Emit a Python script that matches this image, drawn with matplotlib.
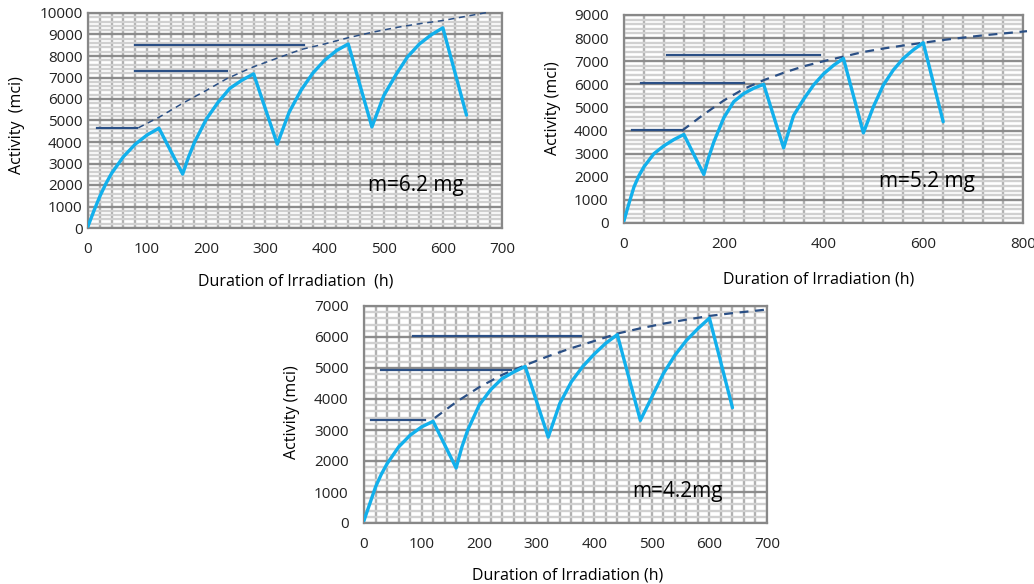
import matplotlib.pyplot as plt
from matplotlib.ticker import MultipleLocator

plt.rcParams['font.family'] = ['Open Sans', 'DejaVu Sans']

# ============================================================
# DATA
# ============================================================

t_hours = [0, 10, 20, 30, 40, 60, 80, 100, 120, 160, 170, 180, 200, 220,
           240, 260, 280, 320, 340, 360, 380, 400, 420, 440, 480, 500, 520,
           540, 560, 580, 600, 640]

act_62 = [80, 800, 1470, 2050, 2550, 3320, 3900, 4330, 4640, 2510, 3300,
          3980, 5060, 5850, 6500, 6870, 7170, 3900, 5380, 6400, 7200, 7800,
          8250, 8560, 4700, 6150, 7100, 7950, 8550, 8980, 9310, 5250]

act_52 = [100, 850, 1560, 2050, 2430, 3000, 3340, 3610, 3830, 2100, 2850,
          3500, 4550, 5250, 5600, 5830, 6000, 3250, 4650, 5350, 5970, 6450,
          6820, 7120, 3900, 5030, 5970, 6620, 7120, 7490, 7800, 4380]

act_42 = [80, 620, 1160, 1570, 1910, 2450, 2830, 3100, 3280, 1775, 2450,
          2990, 3800, 4300, 4660, 4870, 5050, 2770, 3850, 4550, 5050, 5450,
          5800, 6075, 3310, 4065, 4820, 5410, 5890, 6270, 6610, 3720]

# envelope (dashed)
env_t_62 = [85, 120, 160, 200, 235, 280, 320, 360, 400, 440, 480, 520, 560,
            600, 640, 680]
env_62 = [4660, 5150, 5800, 6400, 6950, 7500, 7900, 8300, 8560, 8850, 9100,
          9320, 9500, 9650, 9850, 10050]

env_t_52 = [116, 160, 200, 240, 280, 320, 360, 400, 440, 480, 520, 560, 600,
            640, 680, 720, 760, 808]
env_52 = [3990, 4700, 5300, 5800, 6180, 6500, 6780, 7000, 7200, 7400, 7550,
          7680, 7800, 7920, 8020, 8120, 8200, 8300]

env_t_42 = [123, 160, 200, 240, 280, 320, 360, 400, 440, 480, 520, 560, 600,
            640, 697]
env_42 = [3390, 3900, 4380, 4780, 5090, 5380, 5640, 5870, 6110, 6280, 6430,
          6560, 6680, 6770, 6880]

# horizontal reference lines: start, end, level
ref_start_62 = [16, 80, 80]
ref_end_62 = [83, 235, 365]
ref_level_62 = [4670, 7290, 8490]

ref_start_52 = [17, 35, 86]
ref_end_52 = [116, 241, 393]
ref_level_52 = [4020, 6040, 7250]

ref_start_42 = [13, 30, 85]
ref_end_42 = [106, 255, 377]
ref_level_42 = [3330, 4950, 6040]

# ============================================================
# FIGURE
# ============================================================

W, H = 1034, 584
fig = plt.figure(figsize=(W / 100, H / 100), dpi=100)


def px_axes(left, right, top, bottom):
    return fig.add_axes([left / W, 1 - bottom / H,
                         (right - left) / W, (bottom - top) / H])


def panel(ax, act, env_t, env, r_start, r_end, r_level,
          xmax, ymax, xmaj, xmin, ypad, dash_lw):
    ax.set_xlim(0, xmax)
    ax.set_ylim(0, ymax)

    ax.xaxis.set_major_locator(MultipleLocator(xmaj))
    ax.xaxis.set_minor_locator(MultipleLocator(xmin))
    ax.yaxis.set_major_locator(MultipleLocator(1000))
    ax.yaxis.set_minor_locator(MultipleLocator(200))

    ax.grid(which='minor', axis='y', color='#d0d0d0', lw=1.7, zorder=0)
    ax.grid(which='major', axis='y', color='#8c8c8c', lw=1.7, zorder=0)
    ax.grid(which='both', axis='x', color='#b0b0b0', lw=1.7, zorder=0)
    ax.set_axisbelow(True)

    for s in ax.spines.values():
        s.set_color('#888888')
        s.set_linewidth(1.6)

    ax.tick_params(which='both', length=0, labelsize=11, colors='#222222')
    ax.tick_params(axis='x', pad=10)
    ax.tick_params(axis='y', pad=ypad)

    for a, b, lvl in zip(r_start, r_end, r_level):
        ax.plot([a, b], [lvl, lvl], color='#2a4f85', lw=1.6, zorder=3)

    ax.plot(env_t, env, color='#2a4f85', lw=dash_lw, dashes=(4, 3),
            zorder=3, clip_on=False)

    ax.plot(t_hours, act, color='#12b0ec', lw=2.4, zorder=4,
            solid_joinstyle='round', solid_capstyle='round')


# 1. m=6.2 mg
ax1 = px_axes(88, 502, 13, 228)
panel(ax1, act_62, env_t_62, env_62, ref_start_62, ref_end_62, ref_level_62,
      700, 10000, 100, 20, 4, 1.1)
fig.text(416 / W, 1 - 185 / H, 'm=6.2 mg', fontsize=15, ha='center',
         va='center')
fig.text(296 / W, 1 - 281 / H, 'Duration of Irradiation  (h)', fontsize=11.5,
         ha='center', va='center')
fig.text(17 / W, 1 - 125 / H, 'Activity  (mci)', fontsize=11.5, ha='center',
         va='center', rotation=90)

# 2. m=5.2 mg
ax2 = px_axes(624, 1023, 15, 223)
panel(ax2, act_52, env_t_52, env_52, ref_start_52, ref_end_52, ref_level_52,
      800, 9000, 200, 40, 11, 1.6)
fig.text(927 / W, 1 - 182 / H, 'm=5.2 mg', fontsize=15, ha='center',
         va='center')
fig.text(819 / W, 1 - 280 / H, 'Duration of Irradiation (h)', fontsize=11.5,
         ha='center', va='center')
fig.text(553 / W, 1 - 108 / H, 'Activity (mci)', fontsize=11.5, ha='center',
         va='center', rotation=90)

# 3. m=4.2 mg
ax3 = px_axes(364, 767, 306, 523)
panel(ax3, act_42, env_t_42, env_42, ref_start_42, ref_end_42, ref_level_42,
      700, 7000, 100, 20, 11, 1.6)
fig.text(677 / W, 1 - 492 / H, 'm=4.2mg', fontsize=15, ha='center',
         va='center')
fig.text(568 / W, 1 - 575 / H, 'Duration of Irradiation (h)', fontsize=11.5,
         ha='center', va='center')
fig.text(292 / W, 1 - 412 / H, 'Activity (mci)', fontsize=11.5, ha='center',
         va='center', rotation=90)

fig.savefig('out.png', dpi=100)
